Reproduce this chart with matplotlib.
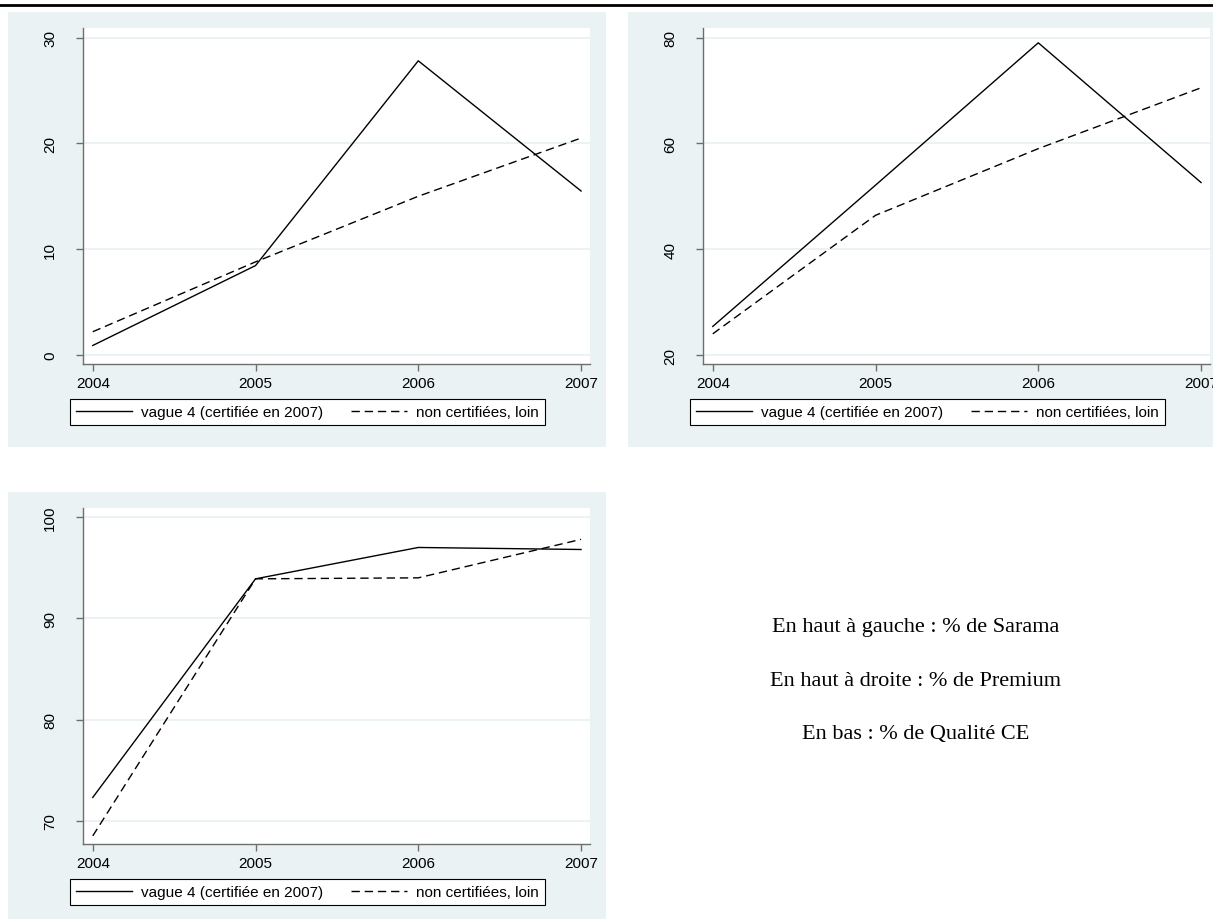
import matplotlib
matplotlib.use("Agg")
import matplotlib.pyplot as plt
from matplotlib.patches import Rectangle
from matplotlib.lines import Line2D

# data
years = [2004, 2005, 2006, 2007]
sarama_vague4 = [0.9, 8.45, 27.8, 15.5]
sarama_noncert = [2.2, 8.8, 15.0, 20.5]
premium_vague4 = [25.4, 52.1, 79.0, 52.6]
premium_noncert = [24.0, 46.4, 59.0, 70.5]
qualite_vague4 = [72.3, 93.9, 97.0, 96.8]
qualite_noncert = [68.5, 93.9, 94.0, 97.8]
label_vague4 = "vague 4 (certifiée en 2007)"
label_noncert = "non certifiées, loin"
notes = ["En haut à gauche : % de Sarama",
         "En haut à droite : % de Premium",
         "En bas : % de Qualité CE"]

W, H = 1213, 920
bg = '#eaf2f3'
plt.rcParams['font.family'] = ['Liberation Sans', 'DejaVu Sans']

fig = plt.figure(figsize=(W / 100, H / 100), dpi=100)

def px(x0, y0, x1, y1):
    # pixel box (top-left origin) -> figure fraction [l, b, w, h]
    return [x0 / W, (H - y1) / H, (x1 - x0) / W, (y1 - y0) / H]

# black rule at top
fig.add_artist(Line2D([0, 1], [1 - 5.8 / H, 1 - 5.8 / H], color='black', lw=2.0))

def panel(dx, dy, v4, nc, ylim, yticks):
    # background
    l, b, w, h = px(8 + dx, 13 + dy, 606 + dx, 448 + dy)
    fig.add_artist(Rectangle((l, b), w, h, transform=fig.transFigure,
                             facecolor=bg, edgecolor='none', zorder=0))
    ax = fig.add_axes(px(83 + dx, 29 + dy, 590 + dx, 365 + dy))
    ax.set_facecolor('white')
    ax.plot(years, v4, color='black', lw=1.0, label=label_vague4)
    ax.plot(years, nc, color='black', lw=1.0, dashes=(6, 3.5), label=label_noncert)
    ax.set_xlim(2003.94, 2007.055)
    ax.set_ylim(*ylim)
    ax.set_xticks(years)
    ax.set_yticks(yticks)
    ax.set_yticklabels([str(t) for t in yticks], rotation=90, va='center')
    ax.grid(axis='y', color=bg, lw=1.4)
    ax.set_axisbelow(True)
    for s in ['top', 'right']:
        ax.spines[s].set_visible(False)
    for s in ['left', 'bottom']:
        ax.spines[s].set_color('#6e6e6e')
        ax.spines[s].set_linewidth(1.0)
    ax.tick_params(direction='out', length=5, width=1.0, color='#6e6e6e',
                   labelsize=11)
    ax.tick_params(axis='x', pad=4)
    ax.tick_params(axis='y', pad=13.5)
    lx0, ly0, lx1, ly1 = 70 + dx, 399 + dy, 545 + dx, 427 + dy
    leg = ax.legend(loc='center', ncol=2, frameon=True, fancybox=False,
                    edgecolor='black', framealpha=1, fontsize=11,
                    handlelength=3.66, columnspacing=1.85, handletextpad=0.6,
                    borderpad=0.4, borderaxespad=0,
                    bbox_to_anchor=((lx0 + lx1) / 2 / W, 1 - (ly0 + ly1) / 2 / H),
                    bbox_transform=fig.transFigure)
    leg.get_frame().set_linewidth(0.8)
    return ax

panel(0, 0, sarama_vague4, sarama_noncert, (-0.85, 30.9), [0, 10, 20, 30])
panel(620, 0, premium_vague4, premium_noncert, (18.3, 81.8), [20, 40, 60, 80])
panel(0, 480, qualite_vague4, qualite_noncert, (67.7, 100.9), [70, 80, 90, 100])

for i, t in enumerate(notes):
    fig.text(916 / W, 1 - (628 + 53.5 * i) / H, t, ha='center', va='center',
             fontsize=16, family=['Liberation Serif', 'DejaVu Serif'])

fig.savefig('out.png', dpi=100, facecolor='white')
